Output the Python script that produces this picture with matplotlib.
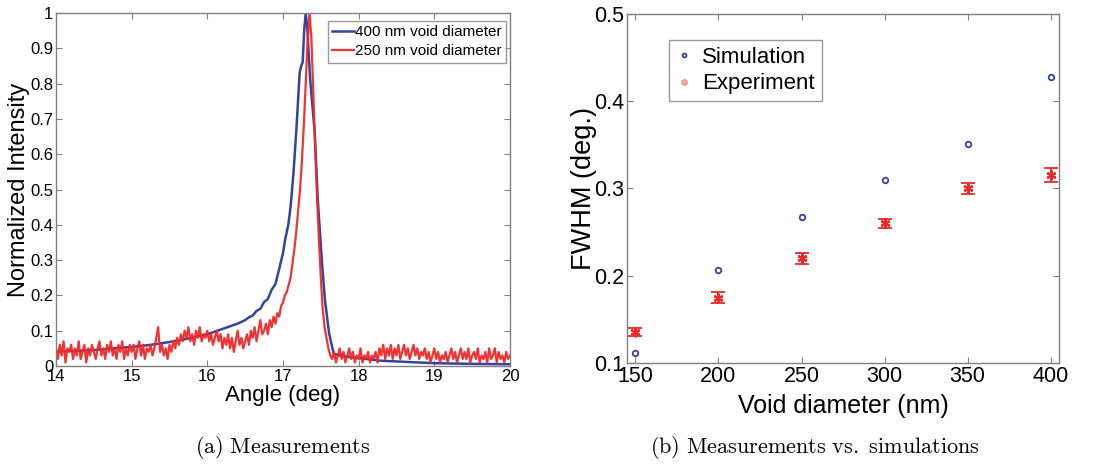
import numpy as np
import matplotlib
matplotlib.use("Agg")
import matplotlib.pyplot as plt

plt.rcParams['font.family'] = ['Liberation Sans', 'DejaVu Sans']
plt.rcParams['mathtext.fontset'] = 'cm'

# ---- (a) measured angular spectra ----
# 400 nm voids: smooth trace
blue_angle = [14.0, 14.25, 14.5, 14.75, 15.0, 15.25, 15.5, 15.75, 16.0, 16.2,
              16.4, 16.5, 16.55, 16.6, 16.65, 16.7, 16.75, 16.8, 16.85, 16.9,
              16.95, 17.0, 17.03, 17.07, 17.1, 17.14, 17.18, 17.22, 17.24, 17.26,
              17.28, 17.3, 17.32, 17.36, 17.42, 17.46, 17.49, 17.52, 17.555, 17.61,
              17.67, 17.75, 17.9, 18.1, 18.3, 18.6, 19.0, 19.5, 20.0]
blue_int = [0.042, 0.043, 0.045, 0.05, 0.054, 0.06, 0.068, 0.078, 0.09, 0.105,
            0.12, 0.13, 0.138, 0.143, 0.156, 0.162, 0.181, 0.19, 0.216, 0.232,
            0.275, 0.32, 0.36, 0.40, 0.45, 0.55, 0.68, 0.83, 0.85, 0.86,
            0.95, 1.0, 0.96, 0.81, 0.66, 0.47, 0.375, 0.28, 0.186, 0.092,
            0.035, 0.03, 0.025, 0.02, 0.015, 0.012, 0.008, 0.006, 0.005]

# 250 nm voids: noisy trace sampled every 0.025 deg from 14 to 20
red_angle = np.linspace(14.0, 20.0, 241)
red_int = [
    0.05, 0.02, 0.06, 0.03, 0.07, 0.01, 0.05, 0.04, 0.06, 0.02,
    0.05, 0.03, 0.07, 0.02, 0.04, 0.06, 0.01, 0.05, 0.03, 0.06,
    0.04, 0.02, 0.05, 0.07, 0.03, 0.05, 0.02, 0.06, 0.04, 0.07,
    0.03, 0.05, 0.02, 0.06, 0.04, 0.07, 0.02, 0.05, 0.03, 0.06,
    0.04, 0.06, 0.02, 0.05, 0.07, 0.03, 0.06, 0.02, 0.05, 0.04,
    0.06, 0.03, 0.05, 0.08, 0.11, 0.04, 0.06, 0.03, 0.05, 0.02,
    0.06, 0.04, 0.07, 0.05, 0.08, 0.06, 0.09, 0.07, 0.10, 0.08,
    0.11, 0.07, 0.09, 0.06, 0.10, 0.08, 0.11, 0.07, 0.09, 0.08,
    0.10, 0.07, 0.09, 0.06, 0.08, 0.10, 0.07, 0.09, 0.05, 0.08,
    0.06, 0.09, 0.05, 0.08, 0.04, 0.07, 0.10, 0.06, 0.08, 0.05,
    0.07, 0.09, 0.06, 0.10, 0.08, 0.11, 0.07, 0.10, 0.13, 0.09,
    0.10, 0.12, 0.09, 0.13, 0.11, 0.14, 0.12, 0.15, 0.14, 0.17,
    # peak
    0.18, 0.20, 0.21, 0.23, 0.25, 0.29, 0.33, 0.38, 0.44, 0.50,
    0.58, 0.68, 0.80, 0.92, 1.00, 0.93, 0.78, 0.62, 0.48, 0.36,
    0.25, 0.16, 0.11, 0.08, 0.05, 0.03, 0.02,
    # tail
    0.04, 0.01, 0.03, 0.05, 0.02, 0.04, 0.01, 0.03, 0.05, 0.02,
    0.04, 0.01, 0.03, 0.02, 0.05, 0.01, 0.03, 0.02, 0.04, 0.01,
    0.03, 0.02, 0.04, 0.01, 0.05, 0.03, 0.06, 0.02, 0.05, 0.03,
    0.06, 0.02, 0.05, 0.03, 0.06, 0.02, 0.04, 0.06, 0.03, 0.05,
    0.02, 0.04, 0.06, 0.03, 0.05, 0.02, 0.04, 0.03, 0.05, 0.02,
    0.04, 0.01, 0.03, 0.05, 0.02, 0.04, 0.01, 0.03, 0.02, 0.04,
    0.01, 0.03, 0.05, 0.02, 0.04, 0.01, 0.03, 0.05, 0.02, 0.04,
    0.02, 0.05, 0.01, 0.03, 0.04, 0.02, 0.05, 0.01, 0.03, 0.02,
    0.04, 0.01, 0.05, 0.02, 0.03, 0.05, 0.01, 0.04, 0.02, 0.03,
    0.01, 0.04, 0.02, 0.03,
]

# ---- (b) FWHM vs void diameter ----
diameter = [150, 200, 250, 300, 350, 400]
fwhm_sim = [0.112, 0.207, 0.267, 0.310, 0.351, 0.428]
fwhm_exp = [0.135, 0.175, 0.220, 0.260, 0.300, 0.315]
fwhm_err = [0.0046, 0.006, 0.0065, 0.0055, 0.0067, 0.008]

BLUE = '#3344a0'
RED = '#f02828'
GRAY = '#808080'
ASTERISK = (6, 2, 0)

fig = plt.figure(figsize=(10.96, 4.68), dpi=100)
ax1 = fig.add_axes([0.0511, 0.2179, 0.4142, 0.7543])
ax2 = fig.add_axes([0.5721, 0.2244, 0.3942, 0.7457])


def matlab_box(ax):
    for s in ax.spines.values():
        s.set_color(GRAY)
        s.set_linewidth(1.0)
    ax.tick_params(direction='in', top=True, right=True, color=GRAY,
                   length=4, width=0.8, pad=2)


ax1.plot(blue_angle, blue_int, color=BLUE, lw=1.8, label='400 nm void diameter')
ax1.plot(red_angle, red_int, color=RED, lw=1.6, alpha=0.95,
         label='250 nm void diameter')
ax1.set_xlim(14, 20)
ax1.set_ylim(0, 1)
ax1.set_xticks(range(14, 21))
ax1.set_yticks(np.arange(0, 1.01, 0.1))
ax1.set_yticklabels(['0', '0.1', '0.2', '0.3', '0.4', '0.5', '0.6', '0.7',
                     '0.8', '0.9', '1'])
matlab_box(ax1)
ax1.tick_params(labelsize=12)
ax1.set_xlabel('Angle (deg)', fontsize=16, labelpad=1)
ax1.set_ylabel('Normalized Intensity', fontsize=17, labelpad=0)
leg1 = ax1.legend(loc='upper right', bbox_to_anchor=(0.992, 0.978), fontsize=11,
                  handlelength=1.4, handletextpad=0.1, borderpad=0.3,
                  labelspacing=0.3, fancybox=False, borderaxespad=0)
leg1.get_frame().set_edgecolor(GRAY)
leg1.get_frame().set_linewidth(1.0)

ax2.errorbar(diameter, fwhm_exp, yerr=fwhm_err, fmt='none', ecolor=RED,
             elinewidth=1.3, capsize=5, capthick=1.3)
ax2.plot(diameter, fwhm_sim, 'o', ls='none', mfc='none', mec=BLUE, mew=1.3,
         ms=4, label='Simulation')
ax2.plot(diameter, fwhm_exp, marker=ASTERISK, ls='none', color=RED, ms=7,
         mew=1.6, label='Experiment')
ax2.set_xlim(145, 405)
ax2.set_ylim(0.1, 0.5)
ax2.set_xticks(diameter)
ax2.set_yticks([0.1, 0.2, 0.3, 0.4, 0.5])
ax2.set_yticklabels(['0.1', '0.2', '0.3', '0.4', '0.5'])
matlab_box(ax2)
ax2.tick_params(labelsize=15.5)
ax2.set_xlabel('Void diameter (nm)', fontsize=18, labelpad=5)
ax2.set_ylabel('FWHM (deg.)', fontsize=19.5, labelpad=-2)
leg2 = ax2.legend(loc='upper left', bbox_to_anchor=(0.097, 0.925),
                  fontsize=16, handlelength=0.8, markerscale=0.7,
                  handletextpad=0.4, borderpad=0.3, labelspacing=0.25,
                  fancybox=False, borderaxespad=0)
leg2.get_frame().set_edgecolor(GRAY)
leg2.get_frame().set_linewidth(1.0)
leg2.legend_handles[1].set_alpha(0.45)

fig.text(0.258, 0.043, r'$\mathrm{(a)\ Measurements}$', fontsize=16,
         ha='center', va='center')
fig.text(0.744, 0.043, r'$\mathrm{(b)\ Measurements\ vs.\ simulations}$',
         fontsize=16, ha='center', va='center')

fig.savefig('out.png', dpi=100)
